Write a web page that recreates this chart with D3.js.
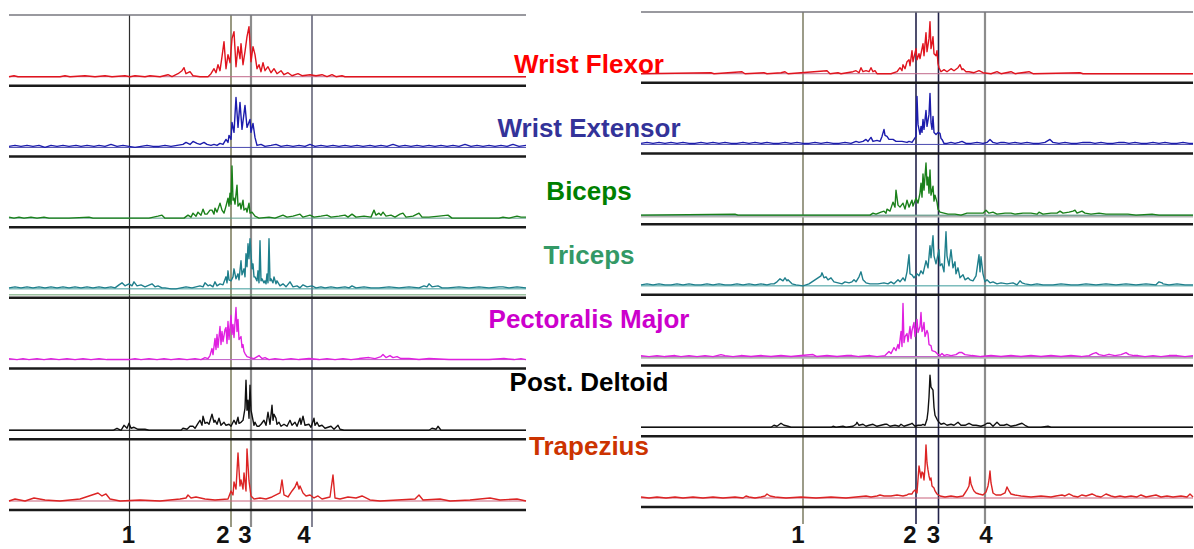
<!DOCTYPE html>
<html>
<head>
<meta charset="utf-8">
<script src="https://cdn.jsdelivr.net/npm/d3@7"></script>
<style>
  body { margin: 0; background: #fff; }
  text { font-family: "Liberation Sans", Arial, sans-serif; font-weight: bold; }
</style>
</head>
<body>
<div id="chart-area"></div>
<script>
/*
EMG traces, two trials
======================
*/

/* Data: muscles, events and traces ([sample, amplitude]) */
var muscles = ["Wrist Flexor", "Wrist Extensor", "Biceps", "Triceps", "Pectoralis Major", "Post. Deltoid", "Trapezius"];
var eventLabels = ["1", "2", "3", "4"];

var leftDuration = 517;
var rightDuration = 552;
var leftEvents = [120.5, 222, 242, 303];
var rightEvents = [162, 275, 297.5, 344];

// left trial
var leftFlexor = [[0,0],[5,1],[9,0],[51,0],[56,1],[61,0],[76,1],[86,0],[96,1],[103,0],[116,1],[121,0],[126,1],[136,0],[141,1],[151,0],[159,2],[163,0],[169,3],[173,6],[175,9],[177,3],[181,5],[184,1],[191,0],[199,0],[202,3],[205,8],[207,4],[209,12],[211,6],[213,20],[215,35],[217,8],[219,22],[221,14],[223,38],[225,45],[227,10],[229,30],[231,18],[232,33],[234,12],[236,25],[238,40],[240,50],[242,15],[244,30],[246,22],[248,8],[250,12],[252,5],[254,14],[256,6],[259,10],[262,4],[265,8],[268,3],[272,6],[275,2],[279,4],[283,1],[289,3],[293,1],[301,2],[307,1],[313,2],[318,0],[323,2],[327,0],[333,1],[336,0],[517,0]];
var leftExtensor = [[0,1],[6,2],[12,1],[18,2],[24,1],[30,2],[36,0],[42,2],[48,1],[54,2],[60,1],[67,2],[72,1],[78,2],[85,1],[90,2],[96,1],[102,3],[108,1],[114,2],[120,1],[126,0],[132,1],[138,2],[144,1],[150,1],[156,2],[162,1],[168,2],[174,3],[177,5],[181,3],[184,6],[188,4],[191,3],[195,5],[198,3],[202,2],[205,3],[208,2],[211,4],[214,3],[217,8],[219,5],[220,12],[222,8],[223,25],[225,15],[227,50],[229,20],[231,45],[233,18],[236,42],[238,20],[241,28],[242,15],[244,24],[246,10],[248,2],[252,3],[256,1],[262,2],[267,3],[272,1],[278,2],[284,1],[290,2],[296,1],[301,3],[306,1],[312,2],[318,1],[324,2],[330,1],[336,2],[342,1],[348,2],[354,1],[361,2],[366,1],[372,2],[378,1],[384,3],[390,1],[396,2],[402,1],[408,2],[414,1],[420,2],[426,1],[432,2],[438,1],[444,2],[450,1],[456,3],[462,1],[468,2],[474,1],[480,2],[486,1],[492,2],[498,1],[504,3],[510,1],[517,2]];
var leftBiceps = [[0,1],[5,0],[10,1],[15,0],[22,1],[28,0],[35,1],[40,0],[60,0],[80,1],[84,0],[140,0],[149,2],[153,3],[156,0],[175,0],[179,3],[182,1],[184,5],[187,2],[189,6],[192,3],[194,9],[196,4],[198,4],[201,8],[203,8],[205,4],[206,10],[208,6],[211,15],[213,8],[215,5],[217,12],[219,20],[220,12],[221,25],[222,14],[223,52],[224,18],[225,20],[226,14],[228,33],[229,12],[231,15],[232,9],[234,18],[235,8],[237,10],[238,6],[240,15],[241,5],[243,6],[246,2],[250,0],[260,1],[266,0],[274,3],[278,1],[284,2],[291,4],[294,1],[301,3],[305,1],[312,2],[318,3],[322,1],[330,2],[336,3],[339,1],[343,4],[347,1],[355,2],[362,1],[365,8],[367,3],[370,5],[372,3],[374,6],[377,2],[382,3],[386,1],[391,4],[394,5],[397,1],[404,2],[410,5],[413,1],[420,1],[430,2],[439,3],[443,0],[490,0],[494,1],[500,0],[508,2],[512,1],[517,1]];
var leftTriceps = [[0,1],[6,2],[12,1],[18,2],[24,1],[30,2],[36,1],[42,2],[48,1],[54,2],[60,1],[66,2],[72,1],[78,2],[84,1],[90,2],[96,1],[102,2],[106,1],[110,4],[113,6],[116,3],[120,5],[123,3],[125,7],[128,3],[132,4],[136,2],[143,5],[146,2],[149,3],[153,1],[156,1],[162,0],[167,0],[172,1],[177,2],[183,1],[187,2],[191,3],[194,2],[196,6],[199,3],[201,4],[204,2],[206,7],[208,3],[211,5],[214,4],[217,12],[218,6],[219,18],[220,9],[222,8],[224,12],[225,20],[227,10],[229,15],[230,9],[232,28],[233,14],[235,20],[236,12],[237,35],[238,22],[239,45],[240,30],[241,50],[243,20],[244,25],[245,12],[246,12],[248,8],[249,18],[250,6],[251,48],[252,8],[253,10],[255,6],[256,8],[257,5],[258,15],[259,6],[260,50],[261,8],[262,10],[264,6],[265,12],[267,5],[268,8],[271,3],[274,5],[277,2],[281,7],[284,2],[288,3],[291,1],[294,4],[298,2],[303,3],[307,1],[312,2],[316,1],[322,2],[328,1],[336,2],[340,1],[343,3],[347,1],[355,2],[362,1],[370,1],[380,2],[390,1],[400,2],[410,1],[415,3],[418,2],[420,5],[423,2],[429,3],[433,1],[439,1],[450,2],[460,1],[470,2],[480,1],[490,2],[494,2],[500,1],[508,2],[517,1]];
var leftPectoralis = [[0,1],[8,0],[14,1],[20,0],[28,1],[35,0],[42,1],[50,0],[58,1],[66,0],[74,1],[82,0],[90,1],[98,0],[120,0],[126,1],[132,0],[140,1],[148,0],[155,1],[162,0],[170,1],[178,0],[186,1],[192,0],[196,2],[199,1],[201,4],[203,11],[204,5],[206,21],[207,10],[208,25],[209,12],[211,33],[212,15],[213,28],[214,18],[216,30],[217,32],[218,16],[219,38],[220,20],[222,44],[223,25],[224,35],[225,22],[227,52],[228,28],[229,40],[230,20],[232,23],[233,12],[234,15],[235,8],[236,6],[238,3],[241,2],[245,1],[250,4],[253,1],[256,2],[260,0],[266,1],[274,0],[282,1],[290,0],[300,1],[310,0],[318,1],[326,0],[334,1],[342,0],[350,1],[360,2],[366,1],[372,3],[374,5],[377,2],[381,4],[384,2],[388,3],[392,1],[400,1],[410,0],[420,1],[440,0],[480,0],[495,1],[505,0],[512,1],[517,0]];
var leftDeltoid = [[0,0],[104,0],[108,2],[112,0],[115,5],[118,2],[120,7],[122,2],[125,3],[129,1],[136,1],[140,0],[172,0],[174,2],[178,1],[181,4],[184,4],[186,2],[189,7],[191,10],[193,5],[194,14],[196,7],[198,8],[200,6],[203,16],[205,8],[206,10],[208,6],[210,12],[212,5],[215,8],[217,5],[220,6],[222,4],[225,10],[227,6],[229,13],[230,7],[232,8],[234,10],[236,22],[237,50],[238,20],[239,30],[240,12],[241,45],[242,20],[243,15],[245,5],[246,8],[248,4],[250,4],[252,6],[255,10],[257,5],[259,18],[261,6],[263,25],[264,10],[265,16],[267,12],[268,6],[270,8],[272,4],[275,6],[278,4],[281,10],[283,5],[286,8],[288,4],[291,12],[292,6],[294,14],[296,5],[300,6],[302,3],[305,12],[306,5],[308,8],[310,4],[313,5],[316,2],[322,4],[325,1],[329,5],[331,1],[335,0],[420,0],[423,2],[427,1],[429,4],[432,0],[517,0]];
var leftTrapezius = [[0,0],[6,2],[16,0],[25,3],[36,1],[51,0],[71,2],[77,4],[83,6],[89,8],[93,5],[97,7],[101,2],[111,0],[131,1],[151,0],[171,2],[177,3],[179,6],[182,3],[187,4],[196,2],[206,1],[219,2],[222,10],[224,6],[225,19],[227,12],[229,48],[231,15],[232,21],[234,12],[235,28],[237,10],[238,52],[240,20],[242,5],[245,2],[251,3],[257,2],[263,4],[267,6],[271,8],[273,21],[275,6],[279,4],[283,10],[286,14],[288,19],[290,12],[291,15],[294,8],[297,5],[301,6],[305,3],[309,5],[313,2],[321,4],[324,26],[326,3],[331,2],[339,4],[347,3],[353,5],[361,1],[371,0],[406,2],[410,6],[414,1],[431,2],[441,0],[461,1],[481,3],[491,1],[508,2],[517,0]];

// right trial
var rightFlexor = [[0,0],[70,1],[73,0],[101,2],[104,0],[123,1],[126,0],[140,1],[144,2],[147,0],[186,3],[189,0],[197,1],[200,0],[212,2],[215,3],[218,1],[220,6],[222,2],[225,3],[228,2],[230,6],[232,2],[234,3],[236,0],[250,0],[256,2],[259,6],[261,3],[262,9],[264,5],[266,12],[268,14],[269,8],[271,23],[272,12],[275,25],[276,14],[278,20],[279,15],[282,30],[283,18],[285,41],[286,22],[288,35],[289,52],[290,25],[291,30],[292,37],[293,20],[295,18],[296,23],[297,10],[298,6],[300,2],[303,4],[306,2],[310,5],[313,3],[317,6],[319,9],[321,4],[322,5],[325,2],[328,2],[333,1],[338,3],[342,1],[350,0],[356,2],[360,0],[370,2],[374,0],[388,2],[392,0],[439,1],[442,0],[552,0]];
var rightExtensor = [[0,1],[6,2],[12,1],[18,2],[24,1],[30,2],[36,1],[42,2],[48,1],[54,1],[60,2],[66,1],[72,2],[78,1],[84,2],[90,1],[96,1],[102,2],[108,1],[114,2],[120,1],[126,2],[132,1],[138,1],[144,2],[150,1],[156,2],[162,1],[168,1],[174,2],[180,1],[186,2],[192,1],[198,1],[204,2],[210,1],[215,3],[218,2],[222,3],[225,5],[227,3],[230,7],[232,3],[236,4],[239,3],[241,8],[243,15],[244,9],[246,8],[248,5],[252,5],[255,3],[257,3],[261,3],[266,2],[268,3],[271,2],[273,5],[275,8],[276,48],[277,20],[279,10],[280,18],[281,12],[282,25],[283,15],[285,34],[286,18],[288,30],[289,51],[290,22],[291,15],[292,28],[293,12],[295,10],[297,12],[299,11],[300,6],[301,5],[303,1],[306,1],[310,2],[314,1],[318,2],[321,3],[325,1],[330,1],[336,2],[342,1],[346,2],[349,5],[352,2],[356,1],[360,2],[363,2],[368,1],[374,2],[380,1],[386,2],[392,1],[398,1],[404,2],[409,5],[412,2],[418,1],[424,2],[430,1],[436,1],[442,2],[449,2],[454,1],[460,2],[466,1],[472,1],[478,2],[483,2],[488,1],[494,2],[500,1],[506,1],[512,2],[518,1],[524,2],[530,1],[536,1],[542,2],[548,1],[552,1]];
var rightBiceps = [[0,0],[94,1],[97,0],[229,0],[232,2],[235,1],[240,3],[243,4],[245,2],[246,6],[249,4],[252,13],[254,8],[255,25],[257,10],[259,8],[262,12],[264,6],[266,15],[268,8],[271,15],[272,9],[275,17],[277,12],[279,22],[280,32],[281,18],[282,41],[283,25],[285,52],[286,30],[287,38],[288,22],[289,45],[290,20],[292,29],[293,14],[294,20],[296,13],[297,6],[299,3],[303,2],[307,1],[314,1],[320,0],[326,2],[342,2],[345,5],[348,2],[352,3],[356,1],[364,2],[370,2],[374,1],[382,2],[390,2],[396,1],[398,3],[402,1],[410,2],[416,2],[419,4],[422,2],[428,3],[432,4],[434,5],[436,2],[441,4],[444,2],[450,1],[458,2],[465,1],[475,1],[487,1],[495,0],[511,1],[518,0],[552,0]];
var rightTriceps = [[0,1],[6,2],[12,1],[18,2],[24,1],[30,1],[36,2],[42,1],[48,2],[54,1],[60,1],[66,2],[72,1],[78,2],[84,1],[90,1],[96,2],[102,1],[108,2],[114,1],[120,2],[126,1],[130,2],[133,2],[136,4],[139,7],[142,5],[144,8],[146,5],[147,6],[151,2],[155,1],[162,0],[168,2],[171,4],[174,6],[177,8],[180,10],[181,13],[183,8],[185,9],[187,6],[190,8],[193,4],[197,3],[201,2],[204,4],[208,3],[211,4],[213,6],[215,4],[218,9],[220,14],[222,6],[225,3],[229,2],[232,2],[237,2],[243,3],[247,2],[250,4],[253,2],[257,6],[259,4],[262,8],[264,5],[266,14],[268,31],[269,12],[271,11],[273,8],[276,12],[278,10],[280,15],[282,12],[285,25],[287,18],[289,40],[290,28],[292,50],[293,30],[295,22],[298,36],[299,20],[301,22],[303,14],[305,54],[306,30],[308,20],[310,36],[312,18],[314,24],[315,12],[317,18],[319,8],[322,11],[324,6],[327,8],[329,6],[332,5],[335,10],[338,31],[339,14],[340,29],[342,12],[344,4],[346,6],[349,3],[352,4],[356,2],[360,3],[366,2],[372,3],[376,1],[379,5],[381,3],[384,2],[390,1],[396,2],[402,1],[412,1],[420,2],[430,1],[437,1],[445,2],[455,1],[465,2],[475,1],[485,2],[495,1],[505,2],[515,1],[518,4],[521,3],[522,2],[528,1],[536,2],[544,1],[552,1]];
var rightPectoralis = [[0,1],[8,0],[16,1],[24,0],[34,1],[40,0],[48,1],[56,0],[64,1],[72,0],[80,2],[84,1],[92,0],[100,1],[110,0],[120,1],[130,0],[140,1],[150,0],[160,1],[172,2],[176,0],[186,1],[196,0],[206,1],[211,1],[218,0],[229,1],[236,0],[244,1],[248,5],[250,3],[252,7],[253,9],[255,6],[257,12],[258,8],[260,25],[261,10],[262,53],[263,14],[264,20],[266,23],[267,15],[269,30],[270,18],[271,26],[273,34],[274,20],[276,37],[277,24],[279,30],[280,44],[281,25],[282,28],[283,34],[284,20],[286,26],[287,23],[288,12],[290,11],[291,6],[294,5],[296,3],[299,1],[301,3],[303,1],[306,2],[310,1],[315,2],[318,4],[321,4],[324,2],[331,1],[340,0],[350,1],[360,0],[370,1],[380,0],[390,1],[400,0],[410,1],[420,0],[430,1],[440,0],[448,1],[452,3],[455,4],[458,2],[463,1],[467,2],[469,2],[474,1],[480,2],[485,4],[488,2],[493,1],[497,1],[504,0],[512,1],[520,0],[528,1],[536,1],[544,0],[552,1]];
var rightDeltoid = [[0,0],[130,0],[133,2],[136,1],[140,4],[143,2],[147,1],[150,0],[190,0],[192,1],[195,0],[202,1],[205,0],[212,1],[215,3],[216,5],[218,2],[222,3],[225,1],[228,2],[232,3],[236,1],[240,2],[244,3],[246,3],[249,1],[254,2],[258,1],[260,3],[263,1],[266,2],[269,3],[271,4],[274,1],[277,2],[280,2],[282,3],[284,2],[286,8],[287,16],[288,30],[289,52],[290,40],[292,37],[293,20],[294,12],[296,8],[298,5],[300,3],[303,4],[306,2],[310,3],[313,2],[317,5],[320,2],[324,2],[328,4],[332,2],[335,2],[340,1],[343,2],[346,4],[349,4],[352,1],[354,3],[356,5],[359,2],[363,2],[366,3],[370,1],[375,2],[378,3],[381,4],[384,2],[388,0],[400,0],[407,1],[410,0],[552,0]];
var rightTrapezius = [[0,1],[8,0],[16,1],[25,0],[34,1],[42,0],[52,1],[62,0],[72,1],[82,0],[94,1],[102,0],[105,2],[108,1],[114,0],[120,1],[124,2],[126,4],[129,2],[134,1],[145,0],[160,1],[175,0],[190,1],[205,0],[215,1],[225,2],[230,1],[236,2],[239,3],[243,2],[250,2],[256,3],[262,2],[266,3],[268,4],[271,4],[272,6],[274,8],[276,5],[278,32],[280,20],[281,26],[282,25],[283,18],[284,30],[285,53],[286,35],[287,28],[288,22],[289,18],[290,20],[291,12],[293,10],[294,7],[296,4],[299,2],[304,1],[310,2],[316,1],[322,2],[324,5],[326,8],[328,12],[329,21],[330,14],[332,9],[333,7],[335,5],[338,4],[342,3],[345,6],[347,12],[348,18],[349,27],[350,15],[352,5],[355,3],[360,3],[364,5],[366,11],[368,7],[370,4],[374,3],[380,2],[390,1],[400,2],[410,1],[415,2],[421,3],[424,2],[428,4],[432,2],[437,1],[441,3],[445,2],[451,4],[455,2],[460,1],[465,4],[470,2],[474,1],[479,2],[484,1],[490,2],[496,1],[500,3],[505,1],[510,2],[515,3],[520,1],[526,2],[532,1],[540,2],[546,1],[549,4],[552,1]];

/* Styles and layout */
var labelColors = ["#ff0000", "#333399", "#008000", "#339966", "#cc00cc", "#000000", "#cc3300"];
var traceColors = ["#e0141e", "#1c1cac", "#1a801a", "#1f7f8c", "#e020e0", "#111111", "#dc2424"];
var flatColors  = ["#c0688a", "#4a4ab0", "#5a9a88", "#3a9a9a", "#c060c8", "#111111", "#c8607a"];

var width = 1194, height = 549;

var panels = [
  { x0: 9, x1: 526, top: 15, bottom: 510, duration: leftDuration, events: leftEvents,
    traces: [leftFlexor, leftExtensor, leftBiceps, leftTriceps, leftPectoralis, leftDeltoid, leftTrapezius],
    eventStyle: [{c:"#2e2e2e", w:1.2, dx:-1}, {c:"#55552e", w:1.2, dx:-8}, {c:"#8c8c8c", w:2.2, dx:-6}, {c:"#33334e", w:1.2, dx:-8}],
    grayBase: [], greenLine: [3] },
  { x0: 641, x1: 1193, top: 12, bottom: 507, duration: rightDuration, events: rightEvents,
    traces: [rightFlexor, rightExtensor, rightBiceps, rightTriceps, rightPectoralis, rightDeltoid, rightTrapezius],
    eventStyle: [{c:"#5a5a3a", w:1.2, dx:-5}, {c:"#22224a", w:1.6, dx:-6}, {c:"#22224a", w:1.6, dx:-5}, {c:"#8c8c8c", w:2.2, dx:1}],
    grayBase: [2, 4], greenLine: [] }
];

/* SVG canvas */
var svg = d3.select("#chart-area").append("svg")
  .attr("width", width)
  .attr("height", height);

panels.forEach(function(p){
  var g = svg.append("g");

  // scales
  var x = d3.scaleLinear().domain([0, p.duration]).range([p.x0, p.x1]);
  var row = d3.scaleBand().domain(muscles).range([p.top, p.bottom]);
  var amp = d3.scaleLinear().domain([0, 60]).range([0, row.bandwidth() * 0.85]);
  var baseOf = function(m){ return row(m) + row.bandwidth() - 9; };

  // event markers
  g.selectAll(".event").data(p.events).enter()
    .append("line")
      .attr("x1", function(d){ return x(d); })
      .attr("x2", function(d){ return x(d); })
      .attr("y1", p.top)
      .attr("y2", p.bottom + 17)
      .attr("stroke", function(d, i){ return p.eventStyle[i].c; })
      .attr("stroke-width", function(d, i){ return p.eventStyle[i].w; });

  g.selectAll(".evlabel").data(p.events).enter()
    .append("text")
      .attr("x", function(d, i){ return x(d) + p.eventStyle[i].dx; })
      .attr("y", 543)
      .attr("text-anchor", "middle")
      .attr("font-size", "24px")
      .attr("fill", "#111")
      .text(function(d, i){ return eventLabels[i]; });

  // gray zero lines under some traces
  p.grayBase.forEach(function(i){
    g.append("line")
      .attr("x1", p.x0).attr("x2", p.x1)
      .attr("y1", baseOf(muscles[i]) + 1).attr("y2", baseOf(muscles[i]) + 1)
      .attr("stroke", "#b4b4b4").attr("stroke-width", 2.5);
  });
  p.greenLine.forEach(function(i){
    g.append("line")
      .attr("x1", p.x0).attr("x2", p.x1)
      .attr("y1", row(muscles[i]) + row.bandwidth() - 3).attr("y2", row(muscles[i]) + row.bandwidth() - 3)
      .attr("stroke", "#6aa070").attr("stroke-width", 1);
  });

  // traces
  muscles.forEach(function(m, i){
    var base = baseOf(m);
    var line = d3.line()
      .x(function(d){ return x(d[0]); })
      .y(function(d){ return base - amp(d[1]); });

    g.append("line")
      .attr("x1", p.x0).attr("x2", p.x1)
      .attr("y1", base).attr("y2", base)
      .attr("stroke", flatColors[i]).attr("stroke-width", 1);

    g.append("path")
      .datum(p.traces[i])
      .attr("d", line)
      .attr("fill", "none")
      .attr("stroke", traceColors[i])
      .attr("stroke-width", 1.4)
      .attr("stroke-linejoin", "round");
  });

  // top line and row separators
  g.append("line")
    .attr("x1", p.x0).attr("x2", p.x1)
    .attr("y1", p.top).attr("y2", p.top)
    .attr("stroke", "#77777f").attr("stroke-width", 1.5);

  g.selectAll(".sep").data(muscles).enter()
    .append("line")
      .attr("x1", p.x0).attr("x2", p.x1)
      .attr("y1", function(d){ return row(d) + row.bandwidth(); })
      .attr("y2", function(d){ return row(d) + row.bandwidth(); })
      .attr("stroke", "#1a1a1a")
      .attr("stroke-width", 2.5);
});

/* Muscle names in the middle */
var labelY = d3.scalePoint().domain(muscles).range([73, 455]);

svg.selectAll(".muscle").data(muscles).enter()
  .append("text")
    .attr("x", 589)
    .attr("y", function(d){ return labelY(d); })
    .attr("text-anchor", "middle")
    .attr("font-size", "26px")
    .attr("fill", function(d, i){ return labelColors[i]; })
    .text(function(d){ return d; });
</script>
</body>
</html>
